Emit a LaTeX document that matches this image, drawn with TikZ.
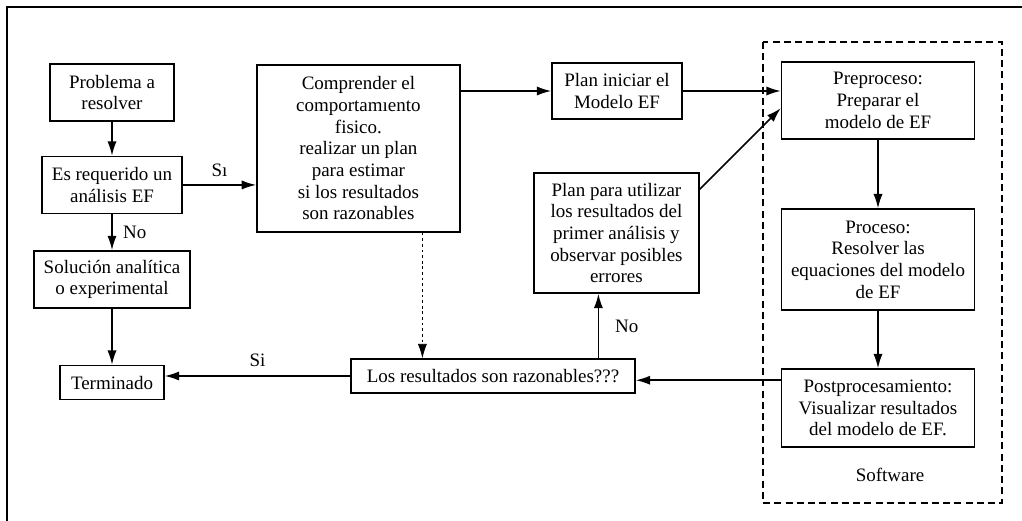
\documentclass[tikz,border=0pt]{standalone}
\usepackage{fontspec}
\setmainfont{Liberation Serif}
\usepackage{tikz}
\usetikzlibrary{arrows.meta,positioning,calc}

\begin{document}
\begin{tikzpicture}[
  caja/.style={draw,line width=1.1pt,align=center,inner sep=2pt,font=\fontsize{13.5}{15.4}\selectfont},
  flecha/.style={line width=1.1pt,-{Latex[length=3.6mm,width=2.3mm]}},
  etiq/.style={font=\fontsize{13.5}{15.4}\selectfont}]
  \useasboundingbox (0,0) rectangle (25.55,-13.025);
  \draw[line width=1.6pt] (0.175,-13.025) -- (0.175,-0.175) -- (25.55,-0.175);
  % bloque del software
  \draw[line width=1.2pt,dash pattern=on 5pt off 3pt] (19.075,-1.05) rectangle (25.05,-12.575);
  \node[etiq] (soft) at (22.25,-11.875) {Software};

  \node[caja,minimum width=3.1cm,minimum height=1.425cm] (prob) at (2.8,-2.31) {Problema a\\resolver};
  \node[caja,minimum width=3.5cm,minimum height=1.425cm,below=0.85cm of prob] (req) {Es requerido un\\análisis EF};
  \node[caja,minimum width=3.9cm,minimum height=1.425cm,below=0.9cm of req] (sol) {Solución analítica\\o experimental};
  \node[caja,minimum width=2.6cm,minimum height=0.85cm,below=1.4cm of sol] (term) {Terminado};

  \node[caja,minimum width=5.075cm,minimum height=4.175cm] (comp) at (8.96,-3.71)
    {Comprender el\\comportamıento\\fisico.\\realizar un plan\\para estimar\\si los resultados\\son razonables};
  \node[caja,minimum width=3.25cm,minimum height=1.4cm] (plani) at (15.425,-2.275) {Plan iniciar el\\Modelo EF};
  \node[caja,minimum width=4.125cm,minimum height=3cm] (planu) at (15.41,-5.825)
    {Plan para utilizar\\los resultados del\\primer análisis y\\observar posibles\\errores};
  \node[caja,minimum width=7.1cm,minimum height=0.85cm] (res) at (12.325,-9.4) {Los resultados son razonables???};

  \node[caja,minimum width=4.825cm,minimum height=1.925cm] (pre) at (21.95,-2.51) {Preproceso:\\Preparar el\\modelo de EF};
  \node[caja,minimum width=4.825cm,minimum height=2.525cm] (proc) at (21.95,-6.49) {Proceso:\\Resolver las\\equaciones del modelo\\de EF};
  \node[caja,minimum width=4.825cm,minimum height=1.95cm] (post) at (21.95,-10.2) {Postprocesamiento:\\Visualizar resultados\\del modelo de EF.};

  \draw[flecha] (prob) -- (req);
  \draw[flecha] (req) -- (sol) node[etiq,midway,right=4pt]{No};
  \draw[flecha] (sol) -- (term);
  \draw[flecha] (req) -- (comp.west |- req) node[etiq,midway,above=2pt]{Sı};
  \draw[flecha] (plani.west -| comp.east) -- (plani.west);
  \draw[flecha] (plani.east) -- (plani.east -| pre.west);
  \draw[flecha] ($(planu.north east)!0.14!(planu.south east)$) -- ($(pre.north west)!0.6!(pre.south west)$);
  \draw[flecha] (pre) -- (proc);
  \draw[flecha] (proc) -- (post);
  \coordinate (postin) at ($(post.north west)+(0,-0.3)$);
  \draw[flecha] (postin) -- (postin -| res.east);
  \draw[flecha] (res.west) -- (res.west -| term.east) node[etiq,midway,above=3pt]{Si};
  \draw[flecha] ([xshift=-0.45cm]planu.south |- res.north) -- ([xshift=-0.45cm]planu.south) node[etiq,midway,right=8pt]{No};
  \draw[flecha,line width=0.6pt,dash pattern=on 2pt off 2pt] ([xshift=1.6cm]comp.south) -- ([xshift=1.6cm]comp.south |- res.north);
\end{tikzpicture}
\end{document}
